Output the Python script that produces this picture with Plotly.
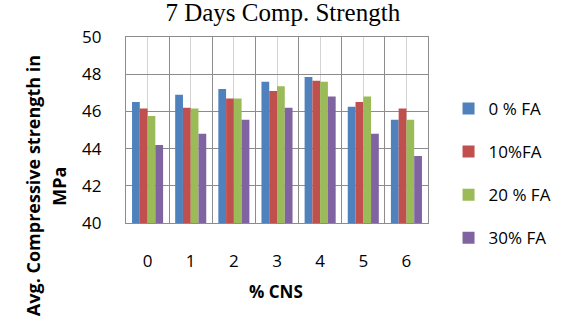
import plotly.graph_objects as go

# % CNS replacement levels (x categories)
cns_levels = [0, 1, 2, 3, 4, 5, 6]

# 7-day average compressive strength (MPa) for each fly ash level
fa_0 = [46.5, 46.9, 47.2, 47.6, 47.85, 46.25, 45.55]
fa_10 = [46.15, 46.2, 46.7, 47.1, 47.65, 46.5, 46.15]
fa_20 = [45.75, 46.15, 46.7, 47.35, 47.6, 46.8, 45.55]
fa_30 = [44.2, 44.8, 45.55, 46.2, 46.8, 44.8, 43.6]

series_names = ["0 % FA", "10%FA", "20 % FA", "30% FA"]
series_values = [fa_0, fa_10, fa_20, fa_30]
series_colors = ["#4F81BD", "#C0504D", "#9BBB59", "#8064A2"]

label_font = "Open Sans, Lato, sans-serif"

fig = go.Figure()
for name, vals, color in zip(series_names, series_values, series_colors):
    fig.add_trace(go.Bar(
        x=cns_levels, y=vals, name=name, legendgroup=name,
        marker=dict(color=color, line=dict(width=0)),
    ))

fig.update_layout(
    width=569, height=329,
    margin=dict(l=126, r=136, t=37, b=106),
    paper_bgcolor="white", plot_bgcolor="white",
    barmode="group", bargap=0.28, bargroupgap=0,
    title=dict(
        text="7 Days Comp. Strength",
        font=dict(family="Liberation Serif, Times New Roman, serif", size=25, color="black"),
        x=0.497, xref="container", xanchor="center",
        y=0.962, yref="container", yanchor="middle",
    ),
    legend=dict(
        x=1.068, xanchor="left", y=0.71, yanchor="top",
        traceorder="grouped", tracegroupgap=18,
        font=dict(family=label_font, size=17, color="black"),
        itemwidth=30, bgcolor="rgba(0,0,0,0)",
    ),
    xaxis=dict(
        range=[-0.5, 6.5], tickmode="array", tickvals=cns_levels,
        ticktext=[str(v) for v in cns_levels],
        ticks="outside", ticklen=22, tickcolor="rgba(0,0,0,0)",
        tickfont=dict(family=label_font, size=17, color="black"),
        showgrid=True, gridcolor="#d4d4d4", gridwidth=1,
        minor=dict(tick0=-0.5, dtick=1, showgrid=True, gridcolor="#8c8c8c", gridwidth=1.2),
        showline=True, linecolor="#8c8c8c", linewidth=1.2, mirror=True,
        zeroline=False,
    ),
    yaxis=dict(
        range=[40, 50], tickmode="linear", tick0=40, dtick=2,
        ticks="outside", ticklen=20, tickcolor="rgba(0,0,0,0)",
        tickfont=dict(family=label_font, size=17, color="black"),
        showgrid=True, gridcolor="#8c8c8c", gridwidth=1.2,
        showline=True, linecolor="#8c8c8c", linewidth=1.2, mirror=True,
        zeroline=False,
    ),
    annotations=[
        dict(text="<b>% CNS</b>", xref="paper", yref="paper", x=0.496, y=-0.37,
             xanchor="center", yanchor="middle", showarrow=False,
             font=dict(family=label_font, size=17, color="black")),
        dict(text="<b>Avg. Compressive strength in</b>", xref="paper", yref="paper",
             x=-0.31, y=0.2, xanchor="center", yanchor="middle", textangle=-90,
             showarrow=False, font=dict(family=label_font, size=18, color="black")),
        dict(text="<b>MPa</b>", xref="paper", yref="paper",
             x=-0.222, y=0.2, xanchor="center", yanchor="middle", textangle=-90,
             showarrow=False, font=dict(family=label_font, size=18, color="black")),
    ],
)

fig.write_html("out.html")
